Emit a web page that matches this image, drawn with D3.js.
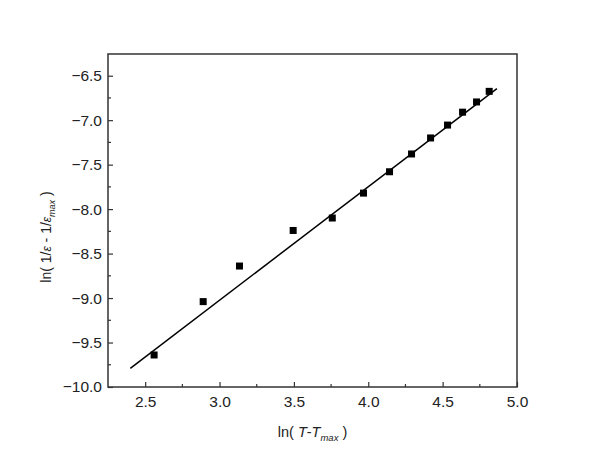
<!DOCTYPE html>
<html>
<head>
<meta charset="utf-8">
<script src="https://cdn.jsdelivr.net/npm/d3@7"></script>
<style>
  body { margin: 0; background: #fff; }
  text { font-family: "Liberation Sans", Arial, sans-serif; fill: #222; }
</style>
</head>
<body>
<svg id="chart" width="600" height="463" viewBox="0 0 600 463"></svg>
<script>
// measured points
const lnT = [2.56, 2.89, 3.134, 3.495, 3.758, 3.968, 4.143, 4.291, 4.419, 4.533, 4.634, 4.728, 4.813];
const lnEps = [-9.64, -9.04, -8.64, -8.24, -8.10, -7.82, -7.58, -7.38, -7.20, -7.055, -6.91, -6.795, -6.676];

// linear fit line endpoints
const fitX = [2.40, 4.865];
const fitY = [-9.79, -6.645];

const xTicks = [2.5, 3.0, 3.5, 4.0, 4.5, 5.0];
const yTicks = [-10.0, -9.5, -9.0, -8.5, -8.0, -7.5, -7.0, -6.5];

const svg = d3.select('#chart');
const plotLeft = 108, plotRight = 517, plotTop = 54, plotBottom = 387;
const tickFont = 15.5;

const x_scale = d3.scaleLinear().domain([2.25, 5.0]).range([plotLeft, plotRight]);
const y_scale = d3.scaleLinear().domain([-10.0, -6.256]).range([plotBottom, plotTop]);

// frame
svg.append('rect')
    .attr('x', plotLeft).attr('y', plotTop)
    .attr('width', plotRight - plotLeft).attr('height', plotBottom - plotTop)
    .attr('fill', 'none').attr('stroke', '#333').attr('stroke-width', 1.5);

// bottom axis, ticks inward
const x_axis = d3.axisBottom(x_scale)
    .tickValues(xTicks).tickSizeInner(-5).tickSizeOuter(0)
    .tickPadding(9).tickFormat(d3.format('.1f'));
const gx = svg.append('g').attr('transform', 'translate(0,' + plotBottom + ')').call(x_axis);
gx.select('.domain').remove();
gx.selectAll('text').attr('font-size', tickFont).attr('font-family', '"Liberation Sans", Arial, sans-serif').attr('fill', '#222');
gx.selectAll('line').attr('stroke', '#333').attr('stroke-width', 1.2);

const xMinor = d3.range(2.75, 5.0, 0.5);
svg.append('g').selectAll('line').data(xMinor).enter().append('line')
    .attr('x1', d => x_scale(d)).attr('x2', d => x_scale(d))
    .attr('y1', plotBottom).attr('y2', plotBottom - 3)
    .attr('stroke', '#333').attr('stroke-width', 1.2);

// left axis, ticks inward
const y_axis = d3.axisLeft(y_scale)
    .tickValues(yTicks).tickSizeInner(-5).tickSizeOuter(0)
    .tickPadding(6).tickFormat(d3.format('.1f'));
const gy = svg.append('g').attr('transform', 'translate(' + plotLeft + ',0)').call(y_axis);
gy.select('.domain').remove();
gy.selectAll('text').attr('font-size', tickFont).attr('font-family', '"Liberation Sans", Arial, sans-serif').attr('fill', '#222');
gy.selectAll('line').attr('stroke', '#333').attr('stroke-width', 1.2);

const yMinor = d3.range(-9.75, -6.3, 0.5);
svg.append('g').selectAll('line').data(yMinor).enter().append('line')
    .attr('x1', plotLeft).attr('x2', plotLeft + 3)
    .attr('y1', d => y_scale(d)).attr('y2', d => y_scale(d))
    .attr('stroke', '#333').attr('stroke-width', 1.2);

// fit line
svg.append('line')
    .attr('x1', x_scale(fitX[0])).attr('y1', y_scale(fitY[0]))
    .attr('x2', x_scale(fitX[1])).attr('y2', y_scale(fitY[1]))
    .attr('stroke', '#000').attr('stroke-width', 1.5);

// square markers
const pts = lnT.map((v, i) => [v, lnEps[i]]);
svg.append('g').selectAll('rect').data(pts).enter().append('rect')
    .attr('x', d => x_scale(d[0]) - 3.5)
    .attr('y', d => y_scale(d[1]) - 3.5)
    .attr('width', 7).attr('height', 7)
    .attr('fill', '#000');

// axis titles
const xt = svg.append('text')
    .attr('x', (plotLeft + plotRight) / 2).attr('y', 437)
    .attr('text-anchor', 'middle').attr('font-size', 14.5);
xt.append('tspan').text('ln( ');
xt.append('tspan').attr('font-style', 'italic').text('T');
xt.append('tspan').text('-');
xt.append('tspan').attr('font-style', 'italic').text('T');
xt.append('tspan').attr('font-style', 'italic').attr('font-size', 9.5).attr('dy', 4).text('max');
xt.append('tspan').attr('dy', -4).text(' )');

const yt = svg.append('text')
    .attr('transform', 'translate(51,237) rotate(-90)')
    .attr('text-anchor', 'middle').attr('font-size', 14);
yt.append('tspan').text('ln( 1/');
yt.append('tspan').attr('font-style', 'italic').attr('font-size', 12).text('ε');
yt.append('tspan').text(' - 1/');
yt.append('tspan').attr('font-style', 'italic').attr('font-size', 12).text('ε');
yt.append('tspan').attr('font-style', 'italic').attr('font-size', 9).attr('dy', 4).text('max');
yt.append('tspan').attr('dy', -4).text(' )');
</script>
</body>
</html>
